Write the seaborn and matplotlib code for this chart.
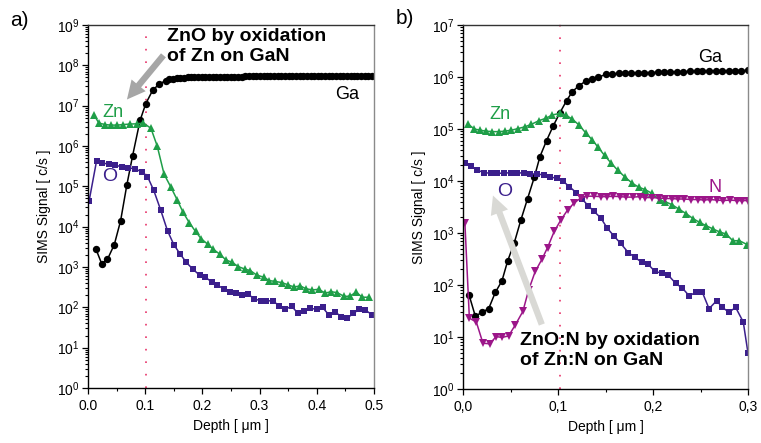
import numpy as np
import pandas as pd
import matplotlib
matplotlib.use("Agg")
import matplotlib.pyplot as plt
from matplotlib.ticker import MultipleLocator, LogLocator, NullFormatter
import seaborn as sns

# ---------------- data: panel a ----------------
ga_a_depth = [0.014, 0.024, 0.034, 0.046, 0.057, 0.068, 0.078, 0.091, 0.101, 0.113, 0.124, 0.136,
              0.142, 0.148, 0.155, 0.161, 0.167, 0.174, 0.180, 0.186, 0.193, 0.199, 0.205, 0.212,
              0.218, 0.224, 0.231, 0.237, 0.243, 0.250, 0.256, 0.262, 0.269, 0.275, 0.281, 0.288,
              0.294, 0.300, 0.307, 0.313, 0.319, 0.326, 0.332, 0.338, 0.345, 0.351, 0.357, 0.364,
              0.370, 0.376, 0.383, 0.389, 0.395, 0.402, 0.408, 0.414, 0.421, 0.427, 0.433, 0.440,
              0.446, 0.452, 0.459, 0.465, 0.471, 0.478, 0.484, 0.490, 0.497]
ga_a_signal = [2.75e3, 1.2e3, 1.55e3, 3.6e3, 1.4e4, 1.1e5, 5.75e5, 4.3e6, 1.12e7, 2.4e7, 3.4e7, 4.2e7,
               4.5e7, 4.7e7, 4.8e7, 4.9e7, 4.95e7, 5.0e7, 5.0e7, 5.05e7, 5.1e7, 5.1e7, 5.1e7, 5.15e7,
               5.15e7, 5.2e7, 5.2e7, 5.2e7, 5.2e7, 5.25e7, 5.25e7, 5.25e7, 5.25e7, 5.3e7, 5.3e7, 5.3e7,
               5.3e7, 5.3e7, 5.35e7, 5.35e7, 5.35e7, 5.35e7, 5.35e7, 5.4e7, 5.4e7, 5.4e7, 5.4e7, 5.4e7,
               5.4e7, 5.45e7, 5.45e7, 5.45e7, 5.45e7, 5.45e7, 5.45e7, 5.5e7, 5.5e7, 5.5e7, 5.5e7, 5.5e7,
               5.5e7, 5.5e7, 5.5e7, 5.5e7, 5.55e7, 5.55e7, 5.55e7, 5.55e7, 5.55e7]

zn_a_depth = [0.0105, 0.019, 0.030, 0.040, 0.051, 0.062, 0.073, 0.085, 0.097, 0.110, 0.121, 0.133,
              0.145, 0.156, 0.166, 0.177, 0.188, 0.198, 0.209, 0.219, 0.230, 0.241, 0.252, 0.263,
              0.274, 0.284, 0.295, 0.307, 0.317, 0.327, 0.339, 0.350, 0.360, 0.371, 0.381, 0.392,
              0.403, 0.415, 0.425, 0.436, 0.448, 0.458, 0.469, 0.479, 0.491]
zn_a_signal = [5.9e6, 3.7e6, 3.4e6, 3.3e6, 3.3e6, 3.4e6, 3.5e6, 3.55e6, 3.7e6, 2.75e6, 1.0e6, 2.0e5,
               9.5e4, 4.6e4, 2.3e4, 1.26e4, 7.6e3, 5.0e3, 3.7e3, 2.75e3, 2.1e3, 1.5e3, 1.3e3, 1.02e3,
               890, 810, 630, 560, 460, 440, 410, 360, 320, 340, 290, 270,
               280, 225, 245, 230, 186, 190, 240, 178, 178]

o_a_depth = [0.002, 0.015, 0.025, 0.036, 0.047, 0.059, 0.070, 0.082, 0.094, 0.104, 0.115, 0.127,
             0.139, 0.150, 0.161, 0.172, 0.183, 0.195, 0.205, 0.216, 0.226, 0.237, 0.248, 0.259,
             0.269, 0.280, 0.291, 0.302, 0.312, 0.323, 0.334, 0.345, 0.356, 0.367, 0.378, 0.388,
             0.400, 0.410, 0.421, 0.431, 0.443, 0.453, 0.464, 0.474, 0.485, 0.497]
o_a_signal = [4.4e4, 4.3e5, 3.8e5, 3.55e5, 3.3e5, 3.1e5, 2.9e5, 2.7e5, 2.3e5, 1.75e5, 7.9e4, 2.6e4,
              7.9e3, 3.6e3, 2.1e3, 1.3e3, 890, 630, 560, 430, 355, 290, 245, 225,
              205, 210, 162, 145, 145, 145, 110, 89, 107, 71, 81, 95,
              89, 100, 65, 78, 59, 54, 71, 89, 85, 65]

# ---------------- data: panel b ----------------
ga_b_depth = [0.0063, 0.013, 0.020, 0.027, 0.034, 0.041, 0.047, 0.054, 0.061, 0.068, 0.075, 0.081,
              0.088, 0.095, 0.102, 0.109, 0.115, 0.122, 0.129, 0.136, 0.142, 0.150, 0.157, 0.164,
              0.171, 0.177, 0.184, 0.191, 0.198, 0.205, 0.212, 0.218, 0.225, 0.232, 0.239, 0.246,
              0.252, 0.259, 0.266, 0.273, 0.280, 0.286, 0.293, 0.300]
ga_b_signal = [65, 25, 30, 35, 72, 120, 290, 650, 1.8e3, 4.6e3, 1.17e4, 2.95e4,
               6.0e4, 1.15e5, 2.05e5, 3.5e5, 5.2e5, 6.8e5, 8.3e5, 9.1e5, 9.8e5, 1.12e6, 1.15e6, 1.17e6,
               1.18e6, 1.19e6, 1.2e6, 1.21e6, 1.22e6, 1.23e6, 1.24e6, 1.25e6, 1.26e6, 1.27e6, 1.28e6, 1.29e6,
               1.3e6, 1.3e6, 1.31e6, 1.32e6, 1.32e6, 1.33e6, 1.33e6, 1.34e6]

zn_b_depth = [0.0056, 0.012, 0.018, 0.024, 0.031, 0.038, 0.044, 0.051, 0.058, 0.065, 0.072, 0.080,
              0.087, 0.094, 0.102, 0.108, 0.115, 0.122, 0.129, 0.136, 0.142, 0.149, 0.156, 0.163,
              0.171, 0.178, 0.185, 0.192, 0.199, 0.207, 0.213, 0.220, 0.227, 0.235, 0.242, 0.249,
              0.256, 0.263, 0.270, 0.277, 0.284, 0.291, 0.299]
zn_b_signal = [1.23e5, 1.0e5, 9.5e4, 9.1e4, 8.9e4, 8.9e4, 9.1e4, 9.5e4, 1.02e5, 1.1e5, 1.23e5, 1.45e5,
               1.6e5, 1.86e5, 2.0e5, 1.86e5, 1.55e5, 1.2e5, 8.5e4, 6.2e4, 4.5e4, 3.1e4, 2.2e4, 1.6e4,
               1.17e4, 9.1e3, 7.6e3, 6.8e3, 5.75e3, 4.3e3, 4.0e3, 3.5e3, 2.9e3, 2.35e3, 1.9e3, 1.6e3,
               1.38e3, 1.2e3, 1.05e3, 955, 710, 710, 600]

o_b_depth = [0.002, 0.008, 0.015, 0.022, 0.029, 0.036, 0.043, 0.050, 0.057, 0.064, 0.071, 0.078,
             0.085, 0.092, 0.099, 0.105, 0.112, 0.119, 0.125, 0.132, 0.138, 0.145, 0.152, 0.159,
             0.166, 0.174, 0.181, 0.188, 0.195, 0.202, 0.209, 0.216, 0.224, 0.231, 0.238, 0.245,
             0.252, 0.259, 0.267, 0.273, 0.280, 0.287, 0.295, 0.300]
o_b_signal = [2.24e4, 1.95e4, 1.62e4, 1.45e4, 1.41e4, 1.41e4, 1.41e4, 1.45e4, 1.45e4, 1.41e4, 1.38e4, 1.35e4,
              1.32e4, 1.2e4, 1.12e4, 1.0e4, 7.8e3, 6.0e3, 4.6e3, 3.3e3, 2.6e3, 1.95e3, 1.23e3, 870,
              630, 420, 340, 275, 250, 182, 170, 155, 107, 87, 62, 72,
              72, 35, 50, 37, 30, 37, 19.5, 4.9]

n_b_depth = [0.002, 0.0067, 0.014, 0.021, 0.028, 0.035, 0.041, 0.048, 0.055, 0.063, 0.069, 0.076,
             0.083, 0.089, 0.096, 0.103, 0.110, 0.117, 0.124, 0.131, 0.138, 0.145, 0.152, 0.158,
             0.165, 0.172, 0.179, 0.186, 0.192, 0.199, 0.206, 0.213, 0.220, 0.226, 0.233, 0.240,
             0.247, 0.254, 0.260, 0.267, 0.274, 0.281, 0.288, 0.294, 0.300]
n_b_signal = [1.55e3, 23, 19.5, 7.6, 7.4, 10.2, 9.8, 10.5, 17, 31, 79, 182,
              310, 525, 1.07e3, 1.78e3, 2.75e3, 3.8e3, 4.7e3, 5.1e3, 5.1e3, 5.0e3, 5.0e3, 5.1e3,
              5.0e3, 4.9e3, 4.9e3, 5.0e3, 4.8e3, 4.8e3, 4.7e3, 4.6e3, 4.6e3, 4.5e3, 4.5e3, 4.4e3,
              4.4e3, 4.3e3, 4.4e3, 4.3e3, 4.2e3, 4.3e3, 4.2e3, 4.2e3, 4.2e3]

xticks_a = [0.0, 0.1, 0.2, 0.3, 0.4, 0.5]
xticks_b = [0.0, 0.1, 0.2, 0.3]
interface_a = 0.101
interface_b = 0.102

# ---------------- style ----------------
sns.set_style("ticks")
plt.rcParams["font.family"] = ["Liberation Sans", "DejaVu Sans"]
plt.rcParams["mathtext.fontset"] = "custom"
plt.rcParams["mathtext.rm"] = "Liberation Sans"
plt.rcParams["mathtext.it"] = "Liberation Sans:italic"
plt.rcParams["mathtext.bf"] = "Liberation Sans:bold"
for key in ["text.color", "axes.labelcolor", "xtick.color", "ytick.color"]:
    plt.rcParams[key] = "#000000"

C_GA = "#000000"
C_ZN = "#1f9e48"
C_O = "#3b1f8c"
C_N = "#9c1689"
C_DOT = "#e8336a"

fig = plt.figure(figsize=(7.61, 4.43), dpi=100)
W, H = 761, 443
ax_a = fig.add_axes([88 / W, 1 - 388 / H, 286 / W, 363 / H])
ax_b = fig.add_axes([463 / W, 1 - 389 / H, 285 / W, 364 / H])


def series(ax, x, y, color, marker, ms):
    df = pd.DataFrame({"depth": x, "signal": y})
    sns.lineplot(data=df, x="depth", y="signal", ax=ax, color=color, marker=marker,
                 markersize=ms, markeredgewidth=0, linewidth=1.1, sort=False,
                 estimator=None, clip_on=True)


def style_axes(ax, ymax, xmax, xticks, comma):
    ax.set_yscale("log")
    ax.set_ylim(1, ymax)
    ax.set_xlim(0, xmax)
    ax.xaxis.set_minor_locator(MultipleLocator(0.05))
    ax.set_xticks(xticks)
    if comma:
        ax.set_xticklabels([f"{v:.1f}".replace(".", ",") for v in xticks])
    else:
        ax.set_xticklabels([f"{v:.1f}" for v in xticks])
    ax.yaxis.set_major_locator(LogLocator(base=10, numticks=20))
    ax.yaxis.set_minor_locator(LogLocator(base=10, subs=np.arange(2, 10), numticks=20))
    ax.yaxis.set_minor_formatter(NullFormatter())
    ax.tick_params(axis="both", which="major", direction="out", length=4, width=0.9,
                   labelsize=10, colors="#000000", pad=2)
    ax.tick_params(axis="both", which="minor", direction="out", length=2.2, width=0.8)
    ax.tick_params(axis="x", which="major", pad=4)
    for side in ["left", "bottom"]:
        ax.spines[side].set_color("#000000")
        ax.spines[side].set_linewidth(1.0)
    ax.spines["top"].set_color("#333333")
    ax.spines["right"].set_color("#8a8a8a")
    ax.spines["top"].set_linewidth(1.0)
    ax.spines["right"].set_linewidth(1.0)
    ax.set_xlabel("Depth [ μm ]", fontsize=10, labelpad=4)
    ax.set_ylabel("SIMS Signal [ c/s ]", fontsize=10, labelpad=4)


# ---------------- panel a ----------------
series(ax_a, ga_a_depth, ga_a_signal, C_GA, "o", 5.3)
series(ax_a, zn_a_depth, zn_a_signal, C_ZN, "^", 6.3)
series(ax_a, o_a_depth, o_a_signal, C_O, "s", 5)
ax_a.axvline(interface_a, color=C_DOT, linestyle=(0, (1, 6.5)), linewidth=1.2, zorder=1)
style_axes(ax_a, 1e9, 0.5, xticks_a, False)

ax_a.text(0.453, 1.86e7, "Ga", fontsize=13, ha="center", va="center", color=C_GA)
ax_a.text(0.043, 6.7e6, "Zn", fontsize=13, ha="center", va="center", color=C_ZN)
ax_a.text(0.038, 1.8e5, "O", fontsize=14, ha="center", va="center", color=C_O)
ax_a.text(0.276, 0.992, "ZnO by oxidation\nof Zn on GaN", transform=ax_a.transAxes,
          fontsize=14, fontweight="bold", ha="left", va="top", linespacing=1.25, color="#000000")
ax_a.annotate("", xy=(0.065, 1.26e7), xytext=(0.135, 2.0e8),
              arrowprops=dict(arrowstyle="simple,head_width=1.1,head_length=1.1,tail_width=0.38",
                              color="#a6a6a6", lw=0, mutation_scale=12))

# ---------------- panel b ----------------
series(ax_b, ga_b_depth, ga_b_signal, C_GA, "o", 5.3)
series(ax_b, zn_b_depth, zn_b_signal, C_ZN, "^", 6.3)
series(ax_b, o_b_depth, o_b_signal, C_O, "s", 5)
series(ax_b, n_b_depth, n_b_signal, C_N, "v", 6.3)
ax_b.axvline(interface_b, ymin=0, ymax=1.025, color=C_DOT, linestyle=(0, (1, 6.5)),
             linewidth=1.2, zorder=1, clip_on=False)
style_axes(ax_b, 1e7, 0.3, xticks_b, True)

ax_b.text(0.260, 2.4e6, "Ga", fontsize=13, ha="center", va="center", color=C_GA)
ax_b.text(0.039, 1.86e5, "Zn", fontsize=13, ha="center", va="center", color=C_ZN)
ax_b.text(0.044, 6.4e3, "O", fontsize=14, ha="center", va="center", color=C_O)
ax_b.text(0.265, 7.4e3, "N", fontsize=13, ha="center", va="center", color=C_N)
ax_b.annotate("", xy=(0.0305, 5.9e3), xytext=(0.084, 15.5),
              arrowprops=dict(arrowstyle="simple,head_width=1.1,head_length=1.1,tail_width=0.38",
                              color="#d9d9d5", lw=0, mutation_scale=12))
ax_b.text((520 - 463) / 285, (389 - 332) / 364, "ZnO:N by oxidation\nof Zn:N on GaN",
          transform=ax_b.transAxes, fontsize=14, fontweight="bold", ha="left", va="top",
          linespacing=1.25, color="#000000")

fig.text(10 / W, 1 - 20 / H, "a)", fontsize=15, ha="left", va="center")
fig.text(396 / W, 1 - 18 / H, "b)", fontsize=15, ha="left", va="center")

fig.savefig("out.png", dpi=100)
